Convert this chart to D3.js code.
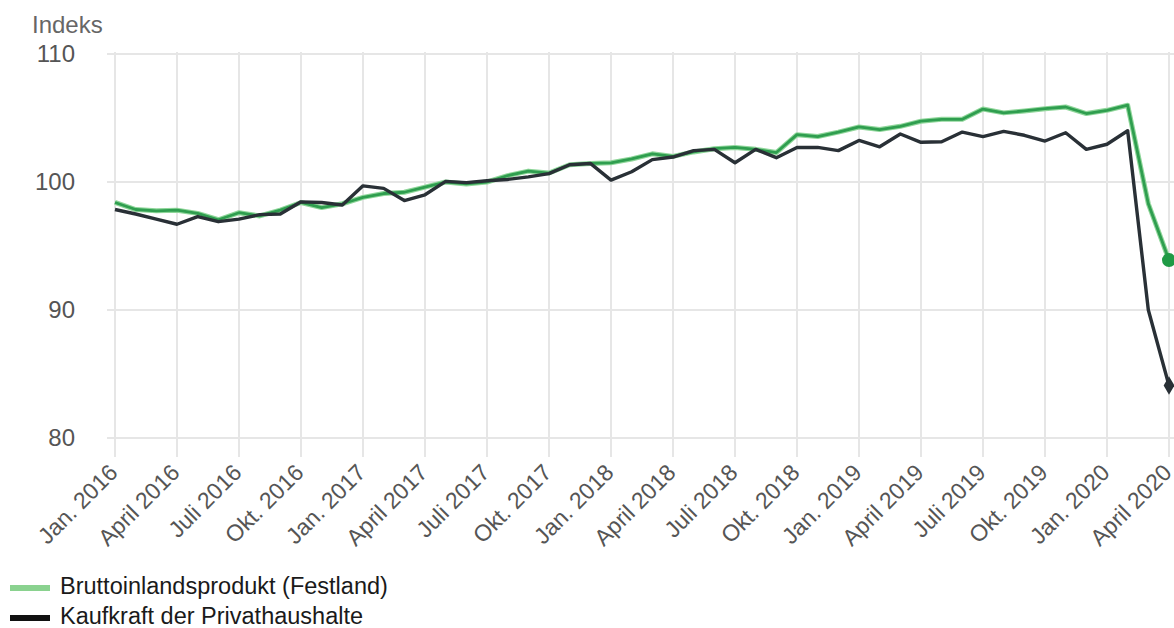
<!DOCTYPE html>
<html>
<head>
<meta charset="utf-8">
<script src="https://cdn.jsdelivr.net/npm/d3@7"></script>
<style>
  html, body { margin: 0; padding: 0; background: #fff; }
  svg { display: block; font-family: "Liberation Sans", Arial, sans-serif; }
</style>
</head>
<body>
<svg id="chart" width="1174" height="628"></svg>
<script>
// ---- data ----
const months = d3.range(52); // Jan 2016 .. April 2020 (monthly index)
const tickMonths = d3.range(0, 52, 3);
const tickLabels = [
  "Jan. 2016","April 2016","Juli 2016","Okt. 2016",
  "Jan. 2017","April 2017","Juli 2017","Okt. 2017",
  "Jan. 2018","April 2018","Juli 2018","Okt. 2018",
  "Jan. 2019","April 2019","Juli 2019","Okt. 2019",
  "Jan. 2020","April 2020"
];
const yTicks = [80, 90, 100, 110];
const seriesNames = ["Bruttoinlandsprodukt (Festland)", "Kaufkraft der Privathaushalte"];
const bip = [
  98.4, 97.85, 97.75, 97.8, 97.55, 97.05, 97.6, 97.35, 97.8, 98.4, 98.0, 98.3,
  98.8, 99.1, 99.2, 99.6, 100.0, 99.85, 100.0, 100.5, 100.85, 100.7, 101.35, 101.45,
  101.5, 101.8, 102.2, 102.0, 102.35, 102.6, 102.7, 102.55, 102.3, 103.7, 103.55, 103.9,
  104.3, 104.1, 104.35, 104.75, 104.9, 104.9, 105.7, 105.4, 105.55, 105.73, 105.86, 105.35,
  105.6, 106.0, 98.3, 93.9
];
const kaufkraft = [
  97.85, 97.5, 97.1, 96.7, 97.3, 96.9, 97.1, 97.45, 97.5, 98.45, 98.4, 98.2,
  99.7, 99.5, 98.55, 99.0, 100.05, 99.95, 100.1, 100.2, 100.4, 100.65, 101.35, 101.45,
  100.15, 100.8, 101.75, 101.95, 102.45, 102.55, 101.5, 102.55, 101.9, 102.7, 102.7, 102.45,
  103.25, 102.75, 103.75, 103.1, 103.15, 103.9, 103.55, 103.95, 103.65, 103.2, 103.85, 102.55,
  102.95, 104.0, 90.0, 84.1
];

// ---- layout ----
const svg = d3.select("#chart");
const x = d3.scaleLinear().domain([0, 51]).range([115, 1169]);
const y = d3.scaleLinear().domain([80, 110]).range([438, 54]);
const gridColor = "#e6e6e6";

// horizontal grid
svg.append("g").selectAll("line").data(yTicks).join("line")
  .attr("x1", 107).attr("x2", 1174)
  .attr("y1", d => y(d)).attr("y2", d => y(d))
  .attr("stroke", gridColor).attr("stroke-width", 2);

// vertical grid / ticks
svg.append("g").selectAll("line").data(tickMonths).join("line")
  .attr("x1", d => x(d)).attr("x2", d => x(d))
  .attr("y1", 52).attr("y2", 457)
  .attr("stroke", gridColor).attr("stroke-width", 2);

// y labels
svg.append("g").selectAll("text").data(yTicks).join("text")
  .attr("x", 75).attr("y", d => y(d))
  .attr("dy", "0.35em")
  .attr("text-anchor", "end")
  .attr("fill", "#555").attr("font-size", 24)
  .text(d => d);

svg.append("text").attr("x", 32).attr("y", 33)
  .attr("fill", "#666").attr("font-size", 24).text("Indeks");

// x labels
svg.append("g").selectAll("text").data(tickMonths).join("text")
  .attr("transform", d => `translate(${x(d) + 4},${474}) rotate(-45)`)
  .attr("text-anchor", "end")
  .attr("fill", "#555").attr("font-size", 23)
  .text((d, i) => tickLabels[i]);

// lines
const line = d3.line().x((d, i) => x(months[i])).y(d => y(d));
svg.append("path").datum(bip)
  .attr("fill", "none").attr("stroke", "#8fd69a").attr("stroke-width", 5)
  .attr("stroke-linejoin", "round").attr("d", line);
svg.append("path").datum(bip)
  .attr("fill", "none").attr("stroke", "#2f9e4f").attr("stroke-width", 2.8)
  .attr("stroke-linejoin", "round").attr("d", line);
svg.append("path").datum(kaufkraft)
  .attr("fill", "none").attr("stroke", "#293036").attr("stroke-width", 3.4)
  .attr("stroke-linejoin", "round").attr("d", line);

// end markers
svg.append("circle")
  .attr("cx", x(51)).attr("cy", y(bip[51])).attr("r", 7)
  .attr("fill", "#1f9a45");
svg.append("path")
  .attr("transform", `translate(${x(51)},${y(kaufkraft[51])})`)
  .attr("d", d3.symbol(d3.symbolDiamond, 100)())
  .attr("fill", "#293036");

// legend
const legend = svg.append("g");
const legendColors = ["#8ad28f", "#111"];
seriesNames.forEach((name, i) => {
  legend.append("rect").attr("x", 10).attr("y", 585 + i * 30)
    .attr("width", 40).attr("height", 6).attr("fill", legendColors[i]);
  legend.append("text").attr("x", 60).attr("y", 594 + i * 30)
    .attr("fill", "#1a1a1a").attr("font-size", 23.5).text(name);
});
</script>
</body>
</html>
